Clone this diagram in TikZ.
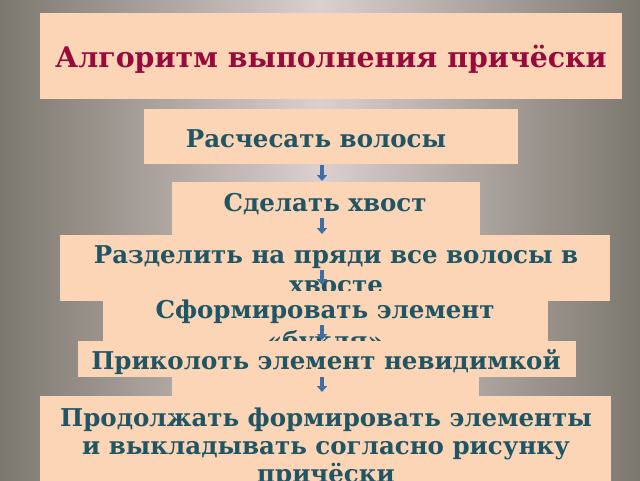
\documentclass[tikz,border=0pt]{standalone}
\usepackage{fontspec}
\setmainfont{DejaVu Serif}
\usepackage{xcolor}
\usepackage{tikz}
\usetikzlibrary{arrows.meta}

\definecolor{peach}{HTML}{FBD5B5}
\definecolor{titlered}{HTML}{990A3C}
\definecolor{stepteal}{HTML}{1F5565}
\definecolor{arrowblue}{HTML}{3D6EA8}
\definecolor{bgdark}{HTML}{7C786E}
\definecolor{bglight}{HTML}{DCCFD0}

\begin{document}
\begin{tikzpicture}[x=1pt, y=-1pt,
    box/.style={fill=peach, inner sep=0pt, anchor=north west},
    steptext/.style={text=stepteal, font=\fontsize{24.5}{28}\selectfont\bfseries, align=center, inner sep=0pt, anchor=base},
    flow/.style={arrowblue, line width=3.5pt, -{Triangle[width=10pt,length=6pt]}}]
    \useasboundingbox (0, 0) rectangle (640, 480);
    \clip (0, 0) rectangle (640, 480);
    \shade[left color=bgdark, right color=bgdark, middle color=bglight] (0, 0) rectangle (640, 480);
    \coordinate (axis) at (322, 0);

    \node[box, minimum width=582pt, minimum height=86pt] (0) at (40, 13) {};
    \node[steptext, text=titlered, font=\fontsize{28.4}{32}\selectfont\bfseries] (t0) at (331, 67) {Алгоритм выполнения причёски};
    \node[box, minimum width=374pt, minimum height=55pt] (1) at (144, 109) {};
    \node[steptext] (t1) at (316, 147) {Расчесать волосы};
    \node[box, minimum width=308pt, minimum height=53pt] (2) at (172, 182) {};
    \node[steptext] (t2) at (325, 211) {Сделать хвост};
    \node[box, minimum width=550pt, minimum height=66pt] (3) at (60, 235) {};
    \node[steptext, font=\fontsize{24.5}{30}\selectfont\bfseries] (t3) at (336, 293) {Разделить на пряди все волосы в\\хвосте};
    \node[box, minimum width=445pt, minimum height=50pt] (4) at (103, 291) {};
    \node[steptext, font=\fontsize{24.5}{31}\selectfont\bfseries] (t4) at (325, 349) {Сформировать элемент\\«букля»};
    \node[box, minimum width=307pt, minimum height=26pt] (4b) at (172, 370) {};
    \node[box, minimum width=498pt, minimum height=36pt] (5) at (78, 341) {};
    \node[steptext] (t5) at (326, 369) {Приколоть элемент невидимкой};
    \node[box, minimum width=571pt, minimum height=100pt] (6) at (40, 396) {};
    \node[steptext] (t6) at (326, 482) {Продолжать формировать элементы\\и выкладывать согласно рисунку\\причёски};

    \foreach \nxt/\len/\gap in {2/16/1, 3/16/1, 4/15/6, 5/15/1, 6/15/4}
        \draw[flow] ([yshift={(\gap+\len)*1pt}]\nxt.north -| axis) -- ([yshift={\gap*1pt}]\nxt.north -| axis);
\end{tikzpicture}
\end{document}
